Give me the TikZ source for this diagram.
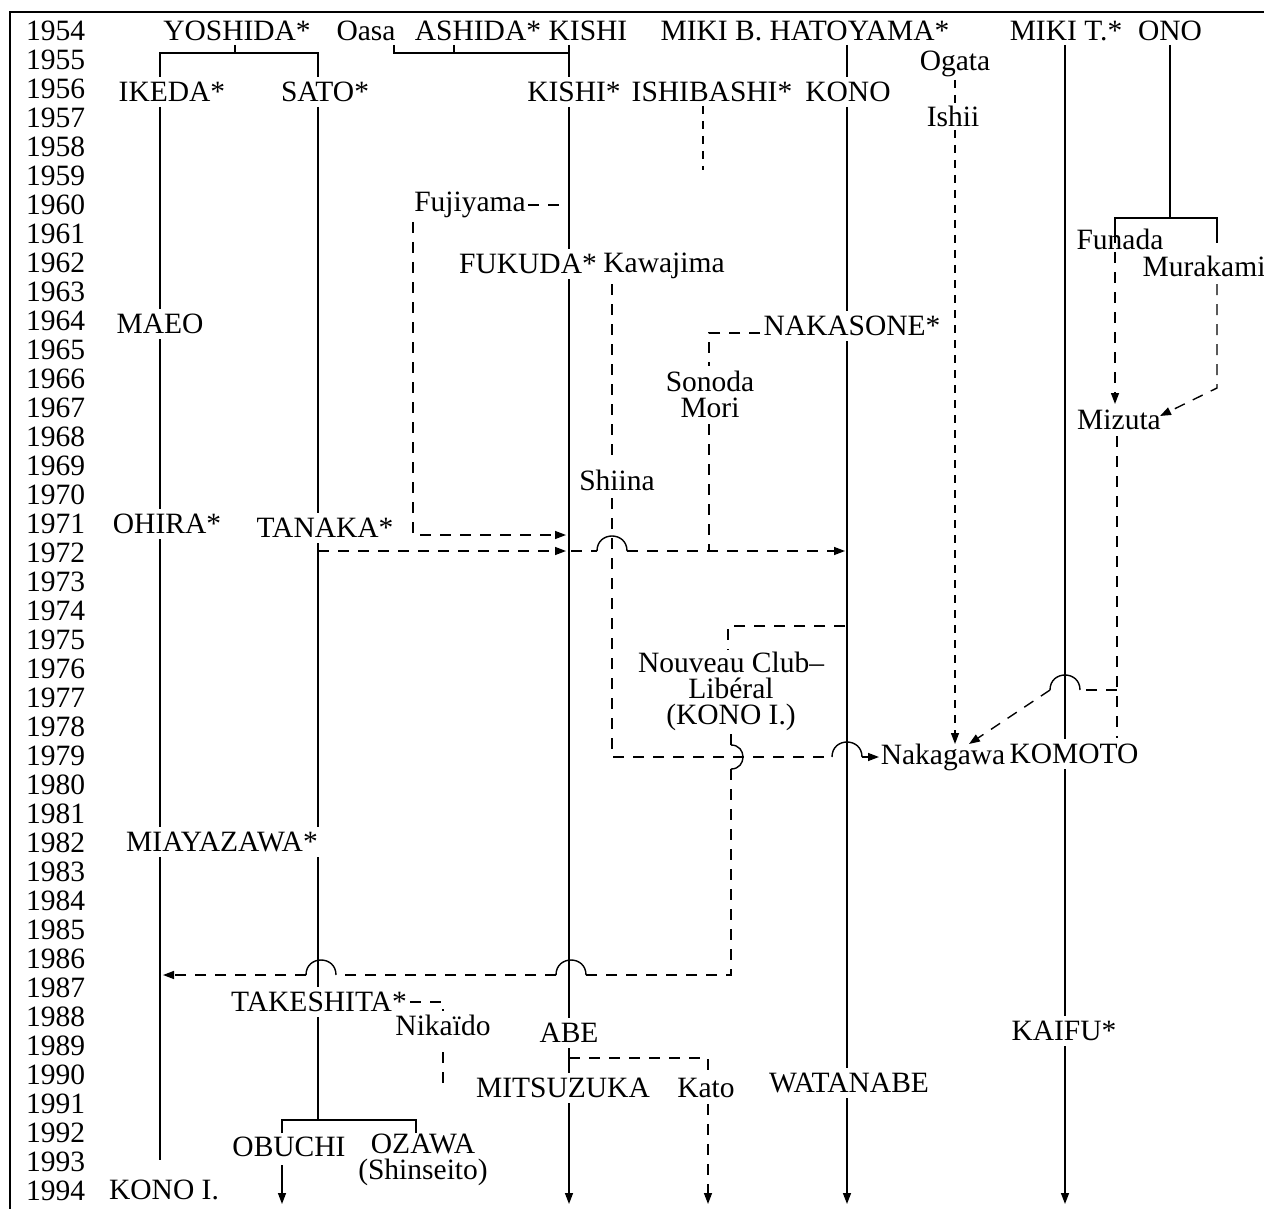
\documentclass[tikz,border=0pt]{standalone}
\usepackage{fontspec}
\setmainfont{Liberation Serif}
\usetikzlibrary{arrows.meta}
\begin{document}
\begin{tikzpicture}[x=1pt,y=-1pt,
  txt/.style={font=\fontsize{29.5}{26}\selectfont, inner sep=1pt},
  yr/.style={font=\fontsize{29.5}{30}\selectfont, inner sep=0pt, anchor=west},
  sol/.style={line width=1.4pt},
  dsh/.style={line width=1.4pt, dash pattern=on 11pt off 9pt},
  fdsh/.style={line width=1.3pt, dash pattern=on 8pt off 7pt},
  arr/.style={-{Triangle[length=11pt,width=8pt]}},
  hop/.style={line width=1.4pt}]
\useasboundingbox (0,0) rectangle (1264,1209);
\draw[line width=1.6pt] (10,1209) -- (10,12) -- (1264,12);
% ---------- years
\foreach \i in {0,...,40} {\pgfmathtruncatemacro{\yy}{1954+\i}
  \node[yr] (y\yy) at (26,{31+29*\i}) {\yy};}
% ---------- names
\node[txt] (YOSHIDA) at (237,31) {YOSHIDA*};
\node[txt] (Oasa) at (366,31) {Oasa};
\node[txt] (ASHIDA) at (478,31) {ASHIDA*};
\node[txt] (KISHIa) at (588,31) {KISHI};
\node[txt] (HATO) at (805,31) {MIKI B. HATOYAMA*};
\node[txt] (MIKIT) at (1066,31) {MIKI T.*};
\node[txt] (ONO) at (1170,31) {ONO};
\node[txt] (Ogata) at (955,64) {Ogata};
\node[txt] (IKEDA) at (172,92) {IKEDA*};
\node[txt] (SATO) at (325,92) {SATO*};
\node[txt] (KISHIb) at (574,92) {KISHI*};
\node[txt] (ISHIBASHI) at (712,92) {ISHIBASHI*};
\node[txt] (KONO) at (848,92) {KONO};
\node[txt] (Ishii) at (953,116) {Ishii};
\node[txt] (Fujiyama) at (470,205) {Fujiyama};
\node[txt] (Funada) at (1120,239) {Funada};
\node[txt] (FUKUDA) at (528,264) {FUKUDA*};
\node[txt] (Kawajima) at (664,266) {Kawajima};
\node[txt] (Murakami) at (1204,266) {Murakami};
\node[txt] (MAEO) at (160,324) {MAEO};
\node[txt] (NAKASONE) at (852,326) {NAKASONE*};
\node[txt, align=center] (Sonoda) at (710,394) {Sonoda\\Mori};
\node[txt] (Mizuta) at (1119,420) {Mizuta};
\node[txt] (Shiina) at (617,480) {Shiina};
\node[txt] (OHIRA) at (167,524) {OHIRA*};
\node[txt] (TANAKA) at (325,528) {TANAKA*};
\node[txt, align=center] (Nouveau) at (731,691) {Nouveau Club–\\Libéral\\(KONO I.)};
\node[txt] (Nakagawa) at (943,757) {Nakagawa};
\node[txt] (KOMOTO) at (1074,754) {KOMOTO};
\node[txt] (MIAYAZAWA) at (222,842) {MIAYAZAWA*};
\node[txt] (TAKESHITA) at (319,1002) {TAKESHITA*};
\node[txt] (Nikaido) at (443,1025) {Nikaïdo};
\node[txt] (ABE) at (569,1033) {ABE};
\node[txt] (KAIFU) at (1064,1031) {KAIFU*};
\node[txt] (MITSUZUKA) at (563,1088) {MITSUZUKA};
\node[txt] (Kato) at (706,1088) {Kato};
\node[txt] (WATANABE) at (849,1083) {WATANABE};
\node[txt] (OBUCHI) at (289,1147) {OBUCHI};
\node[txt, align=center] (OZAWA) at (423,1160) {OZAWA\\(Shinseito)};
\node[txt] (KONOIb) at (164,1190) {KONO I.};
% ---------- connectors
% Yoshida bracket
\draw[sol] (235,45) -- (235,53);
\draw[sol] (160,77) -- (160,53) -- (318,53) -- (318,77);
% Ikeda line
\draw[sol] (160,107) -- (160,309);
\draw[sol] (160,339) -- (160,509);
\draw[sol] (160,539) -- (160,827);
\draw[sol] (160,857) -- (160,1160);
% Sato line
\draw[sol] (318,107) -- (318,513);
\draw[sol] (318,543) -- (318,827);
\draw[sol] (318,857) -- (318,987);
\draw[sol] (318,1017) -- (318,1120);
\draw[sol] (282,1133) -- (282,1120) -- (416,1120) -- (416,1133);
\draw[sol,arr] (282,1165) -- (282,1204);
% Ashida bracket and Kishi line
\draw[sol] (394,45) -- (394,53) -- (569,53);
\draw[sol] (454,45) -- (454,53);
\draw[sol] (569,45) -- (569,77);
\draw[sol] (569,107) -- (569,249);
\draw[sol] (569,279) -- (569,1018);
\draw[sol] (569,1048) -- (569,1073);
\draw[sol,arr] (569,1103) -- (569,1204);
% Ishibashi
\draw[fdsh] (703,106) -- (703,170);
% Hatoyama / Kono line
\draw[sol] (847,45) -- (847,77);
\draw[sol] (847,107) -- (847,311);
\draw[sol] (847,341) -- (847,1068);
\draw[sol,arr] (847,1098) -- (847,1204);
% Ogata / Ishii
\draw[fdsh] (955,80) -- (955,103);
\draw[fdsh,arr] (955,130) -- (955,744);
% Miki T. line
\draw[sol] (1065,45) -- (1065,739);
\draw[sol] (1065,769) -- (1065,1016);
\draw[sol,arr] (1065,1046) -- (1065,1204);
% Ono
\draw[sol] (1170,45) -- (1170,218);
\draw[sol] (1115,232) -- (1115,218) -- (1217,218) -- (1217,232);
\draw[dsh,arr] (1115,232) -- (1115,404);
\draw[dsh] (1217,232) -- (1217,250);
\draw[dsh,arr] (1217,284) -- (1217,388) -- (1160,416);
% Fujiyama
\draw[dsh] (528,205) -- (569,205);
\draw[dsh,arr] (413,222) -- (413,535) -- (566,535);
% Tanaka 1972
\draw[dsh,arr] (318,551) -- (566,551);
\draw[dsh] (571,551) -- (597,551);
\draw[hop] (597,551) .. controls (597,531) and (627,531) .. (627,551);
\draw[dsh,arr] (627,551) -- (845,551);
% Kawajima / Shiina
\draw[dsh] (612,284) -- (612,464);
\draw[dsh] (612,498) -- (612,757) -- (832,757);
\draw[hop] (832,757) .. controls (832,737) and (862,737) .. (862,757);
\draw[dsh,arr] (862,757) -- (879,757);
% Nakasone / Sonoda / Mori
\draw[dsh] (760,333) -- (709,333) -- (709,366);
\draw[dsh] (709,424) -- (709,551);
% Nouveau Club Liberal
\draw[dsh] (845,626) -- (728,626) -- (728,650);
\draw[dsh] (731,734) -- (731,745);
\draw[hop] (731,745) .. controls (747,745) and (747,769) .. (731,769);
\draw[dsh] (731,769) -- (731,975) -- (586,975);
\draw[hop] (586,975) .. controls (586,955) and (556,955) .. (556,975);
\draw[dsh] (556,975) -- (336,975);
\draw[hop] (336,975) .. controls (336,955) and (306,955) .. (306,975);
\draw[dsh,arr] (306,975) -- (163,975);
% Mizuta
\draw[dsh] (1117,436) -- (1117,738);
\draw[dsh] (1117,690) -- (1080,690);
\draw[hop] (1080,690) .. controls (1080,670) and (1050,670) .. (1050,690);
\draw[dsh,arr] (1050,690) -- (969,744);
% Takeshita / Nikaido
\draw[dsh] (410,1002) -- (443,1002) -- (443,1011);
\draw[dsh] (443,1052) -- (443,1092);
% Abe / Kato
\draw[dsh] (569,1058) -- (708,1058) -- (708,1074);
\draw[dsh,arr] (708,1104) -- (708,1204);
\end{tikzpicture}
\end{document}
